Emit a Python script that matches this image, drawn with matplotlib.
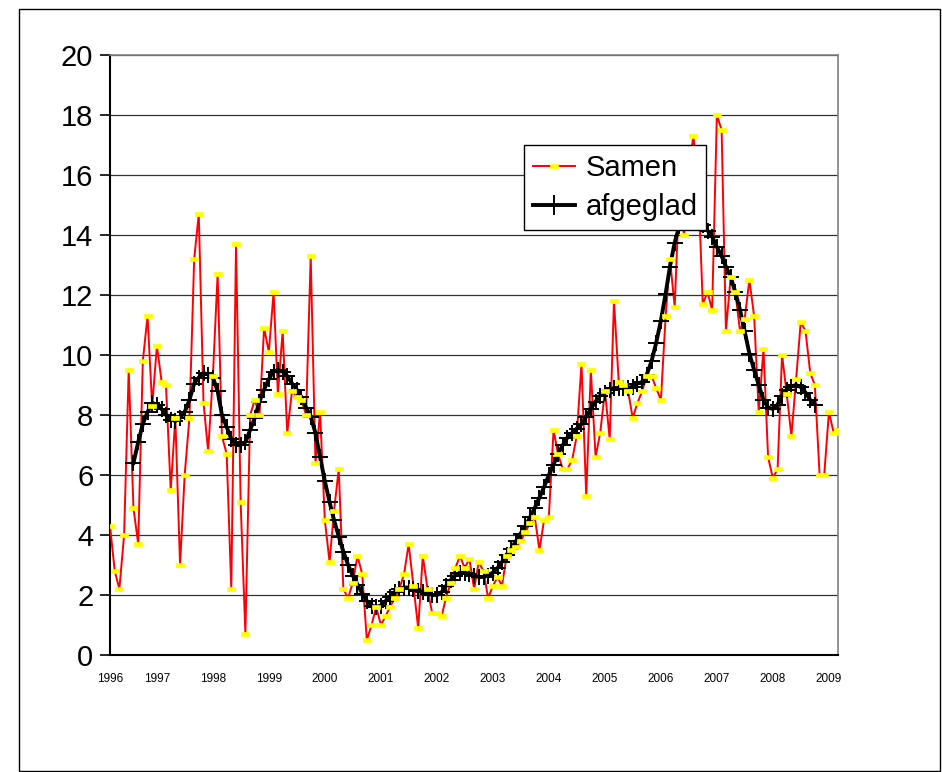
import numpy as np
import pandas as pd
import matplotlib
matplotlib.use("Agg")
import matplotlib.pyplot as plt
from matplotlib.lines import Line2D
from matplotlib.patches import Rectangle

plt.rcParams['font.family'] = ['Liberation Sans', 'DejaVu Sans']

# ---- data -------------------------------------------------------------
start_month = '1996-03-01'
samen = [4.3, 2.8, 2.2, 4.0, 9.5, 4.9, 3.7, 9.8, 11.3, 8.3,
         10.3, 9.1, 9.0, 5.5, 7.9, 3.0, 6.0, 7.9, 13.2, 14.7,
         8.4, 6.8, 9.3, 12.7, 7.3, 6.7, 2.2, 13.7, 5.1, 0.7,
         8.0, 8.5, 8.0, 10.9, 10.1, 12.1, 8.7, 10.8, 7.4, 8.8,
         8.6, 8.5, 8.0, 13.3, 6.4, 8.1, 4.5, 3.1, 4.8, 6.2,
         2.2, 1.9, 2.4, 3.3, 2.7, 0.5, 1.0, 1.6, 1.0, 1.3,
         1.6, 1.9, 2.2, 2.7, 3.7, 2.3, 0.9, 3.3, 2.2, 1.4,
         1.4, 1.3, 1.9, 2.4, 2.9, 3.3, 2.9, 3.2, 2.2, 3.1,
         2.8, 1.9, 2.3, 2.6, 2.3, 3.3, 3.5, 3.6, 3.8, 4.1,
         4.4, 4.6, 3.5, 4.5, 4.6, 7.5, 6.7, 6.2, 6.2, 6.5,
         7.3, 9.7, 5.3, 9.5, 6.6, 7.4, 8.8, 7.2, 11.8, 9.1,
         9.0, 8.8, 7.9, 8.4, 8.8, 9.3, 9.3, 8.9, 8.5, 11.3,
         13.2, 11.6, 15.5, 14.0, 16.2, 17.3, 15.8, 11.7, 12.1, 11.5,
         18.0, 17.5, 10.8, 12.6, 12.1, 10.8, 11.2, 12.5, 11.3, 8.1,
         10.2, 6.6, 5.9, 6.2, 10.0, 8.7, 7.3, 9.2, 11.1, 10.8,
         9.4, 9.0, 6.0, 6.0, 8.1, 7.4, 7.5]

afgeglad_offset = 5  # first month that has a smoothed value
afgeglad = [6.4, 7.1, 7.7, 8.1, 8.4, 8.35, 8.2, 8.0, 7.85, 7.8,
            7.9, 8.1, 8.5, 9.05, 9.25, 9.4, 9.35, 9.25, 8.8, 8.0,
            7.6, 7.2, 7.0, 7.0, 7.1, 7.5, 7.9, 8.45, 8.85, 9.2,
            9.45, 9.5, 9.45, 9.3, 9.05, 8.85, 8.6, 8.25, 7.95, 7.4,
            6.6, 5.8, 5.1, 4.5, 3.95, 3.45, 3.0, 2.65, 2.35, 2.05,
            1.8, 1.65, 1.6, 1.65, 1.8, 1.95, 2.1, 2.2, 2.25, 2.25,
            2.2, 2.15, 2.1, 2.05, 2.0, 2.0, 2.1, 2.3, 2.5, 2.65,
            2.75, 2.75, 2.7, 2.65, 2.6, 2.6, 2.65, 2.75, 2.9, 3.1,
            3.35, 3.55, 3.8, 4.05, 4.3, 4.6, 4.9, 5.25, 5.6, 6.0,
            6.35, 6.7, 7.0, 7.25, 7.4, 7.55, 7.7, 7.95, 8.2, 8.45,
            8.65, 8.75, 8.85, 8.9, 8.9, 8.9, 8.9, 8.95, 9.05, 9.1,
            9.35, 9.8, 10.4, 11.15, 12.05, 12.95, 13.75, 14.3, 14.5, 14.6,
            14.6, 14.5, 14.35, 14.15, 13.95, 13.6, 13.3, 12.95, 12.6, 12.1,
            11.5, 10.8, 10.05, 9.5, 9.0, 8.5, 8.25, 8.2, 8.35, 8.65,
            8.85, 8.95, 9.0, 8.93, 8.75, 8.5, 8.35]

year_labels = ['1996', '1997', '1998', '1999', '2000', '2001', '2002',
               '2003', '2004', '2005', '2006', '2007', '2008', '2009']
y_ticks = [0, 2, 4, 6, 8, 10, 12, 14, 16, 18, 20]
series_names = ['Samen', 'afgeglad']

# ---- build ------------------------------------------------------------
dates = pd.date_range(start_month, periods=len(samen), freq='MS')
smooth = np.full(len(samen), np.nan)
smooth[afgeglad_offset:afgeglad_offset + len(afgeglad)] = afgeglad

tick_dates = [dates[0]] + [pd.Timestamp(f'{y}-01-01') for y in year_labels[1:]]

fig = plt.figure(figsize=(9.42, 7.72), dpi=100)
fig.patches.append(Rectangle((19 / 942, 1 / 772), 921 / 942, 762 / 772,
                             transform=fig.transFigure, fill=False,
                             edgecolor='black', linewidth=1.0))
ax = fig.add_axes([110 / 942, 117 / 772, 728 / 942, 600 / 772])

ax.set_ylim(0, 20)
ax.set_xlim(dates[0], dates[-1])
ax.set_yticks(y_ticks)
ax.set_yticklabels([str(v) for v in y_ticks], fontsize=21)
ax.set_xticks(tick_dates)
ax.set_xticklabels(year_labels, fontsize=8.5)
ax.tick_params(axis='x', length=0, pad=13)
ax.tick_params(axis='y', length=7, width=1.2, pad=5)
ax.yaxis.grid(True, color='#333333', linewidth=0.9)
ax.set_axisbelow(True)

for side in ['top', 'right']:
    ax.spines[side].set_color('#808080')
    ax.spines[side].set_linewidth(1.2)
for side in ['left', 'bottom']:
    ax.spines[side].set_color('black')
    ax.spines[side].set_linewidth(1.5)

rect_marker = [(-1, -0.45), (1, -0.45), (1, 0.45), (-1, 0.45), (-1, -0.45)]

ax.plot(dates, samen, color='#FF0000', linewidth=1.4, zorder=3)
ax.plot(dates, smooth, color='black', linewidth=2.8, marker='+',
        markersize=11, markeredgewidth=1.4, zorder=4)
ax.plot(dates, samen, linestyle='none', marker=rect_marker, markersize=5.5,
        markerfacecolor='#FFFF00', markeredgecolor='#FFFF00',
        markeredgewidth=0.5, zorder=5)

handles = [
    Line2D([], [], color='#FF0000', linewidth=1.4, marker=rect_marker,
           markersize=5.5, markerfacecolor='#FFFF00', markeredgecolor='#FFFF00',
           markeredgewidth=0.5),
    Line2D([], [], color='black', linewidth=2.8, marker='+', markersize=14,
           markeredgewidth=1.4),
]
leg = ax.legend(handles, series_names, loc='upper left',
                bbox_to_anchor=(0.569, 0.85), borderaxespad=0,
                fontsize=21, frameon=True, fancybox=False, framealpha=1,
                edgecolor='black', handlelength=1.45, handletextpad=0.35,
                labelspacing=0.4, borderpad=0.3, numpoints=1)
leg.get_frame().set_linewidth(1.0)
leg.set_zorder(10)

fig.savefig('out.png', dpi=100)
